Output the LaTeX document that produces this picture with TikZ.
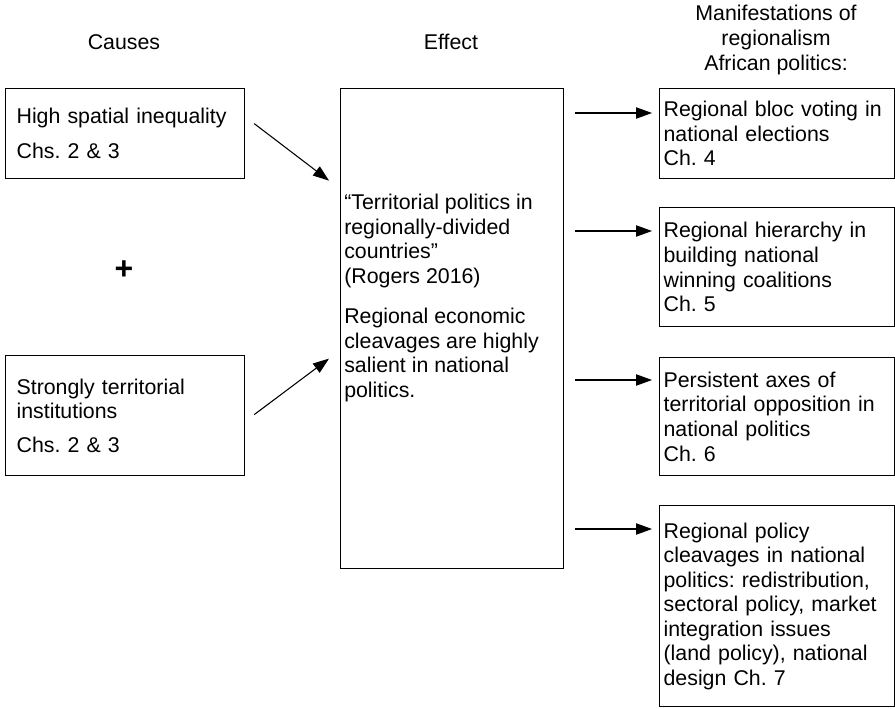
\documentclass[tikz,border=0pt]{standalone}
\usepackage{fontspec}
\setmainfont{Liberation Sans}
\usetikzlibrary{arrows.meta,calc}
\frenchspacing

\begin{document}
\begin{tikzpicture}[x=0.75pt,y=0.75pt,yscale=-1,xscale=1,
    font=\fontsize{16}{18.4}\selectfont,
    lbox/.style={draw, line width=0.9pt, anchor=north west, align=left, inner xsep=8.25pt, inner ysep=0pt, text width=162.75pt},
    mbox/.style={draw, line width=0.9pt, anchor=north west, align=left, inner xsep=3pt, inner ysep=0pt, text width=170.25pt},
    head/.style={align=center, inner sep=0pt},
    arr/.style={line width=0.8pt, -{Triangle[length=12pt,width=8.5pt]}}]

    \useasboundingbox (0,0) rectangle (895,708);

    % headings
    \node [head] (hcause) at (124,42) {Causes};
    \node [head] (heffect) at (451,42) {Effect};
    \node [head] (hmanif) at (776,40) {Manifestations of\\regionalism\\African politics:};

    % causes
    \node [lbox, minimum height=67.5pt] (hsi) at (5,88) {High spatial inequality\\[8pt]Chs. 2 \& 3};
    \node [font=\fontsize{24}{24}\selectfont\bfseries, inner sep=0pt] (plus) at (124,270) {+};
    \node [lbox, minimum height=90pt] (sti) at (5,355) {Strongly territorial\\institutions\\[7pt]Chs. 2 \& 3};

    % effect
    \node [draw, line width=0.9pt, anchor=north west, minimum width=167.25pt, minimum height=360pt] (effect) at (340,88) {};
    \node [anchor=north west, align=left, inner sep=0pt] (efftxt) at ($(effect.north west)+(4,106)$) {``Territorial politics in\\regionally-divided\\countries''\\(Rogers 2016)\\[12pt]Regional economic\\cleavages are highly\\salient in national\\politics.};

    % manifestations
    \node [mbox, minimum height=67.5pt] (m1) at (659,88) {Regional bloc voting in\\national elections\\Ch. 4};
    \node [mbox, minimum height=89.25pt] (m2) at (659,207) {Regional hierarchy in\\building national\\winning coalitions\\Ch. 5};
    \node [mbox, minimum height=88.5pt] (m3) at (659,357) {Persistent axes of\\territorial opposition in\\national politics\\Ch. 6};
    \node [mbox, minimum height=150.75pt] (m4) at (659,505) {Regional policy\\cleavages in national\\politics: redistribution,\\sectoral policy, market\\integration issues\\(land policy), national\\design Ch. 7};

    % arrows
    \draw [arr] ($(hsi.east)+(9,-10)$) -- ($(effect.west)+(-11,-148)$);
    \draw [arr] ($(sti.east)+(9,-1)$) -- ($(effect.west)+(-11,30)$);
    \foreach \m/\dy in {m1/25,m2/24,m3/23,m4/24}
        \draw [arr] ($(effect.east |- \m.north)+(11,\dy)$) -- ($(\m.north west)+(-7,\dy)$);

\end{tikzpicture}
\end{document}
